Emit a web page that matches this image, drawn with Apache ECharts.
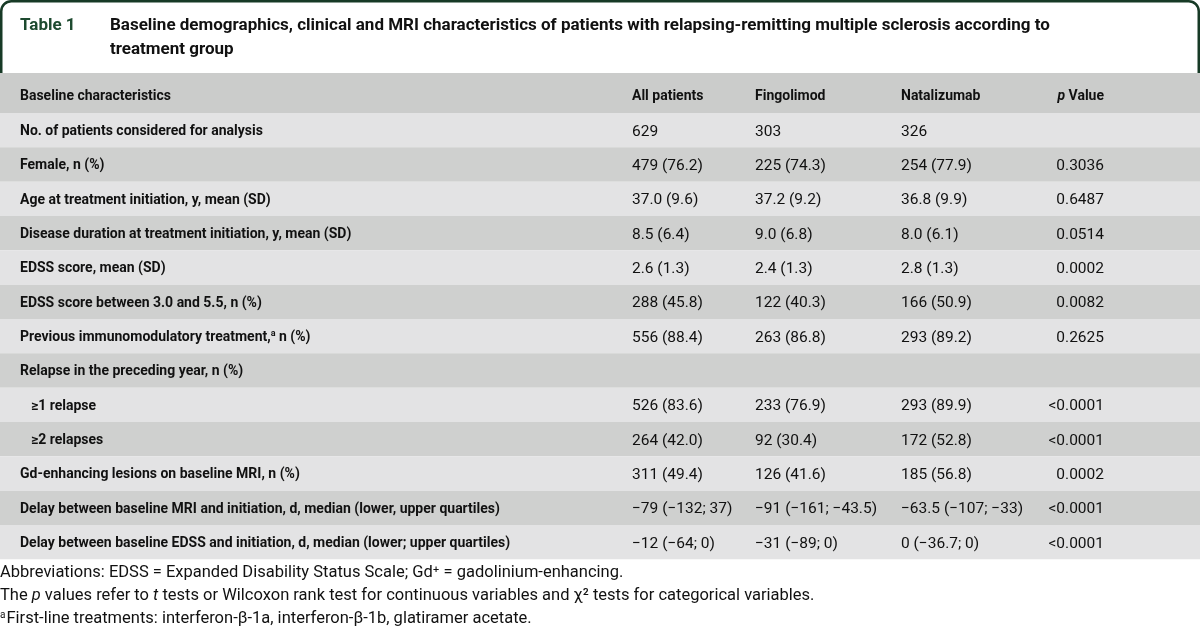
<!DOCTYPE html>
<html><head><meta charset="utf-8">
<script src="https://cdn.jsdelivr.net/npm/echarts@6/dist/echarts.min.js"></script>
<style>html,body{margin:0;padding:0;background:#fff}#c{width:1200px;height:641px}</style>
</head><body><div id="c"></div>
<script>
// ---------- DATA ----------
const tableLabel = 'Table 1';
const titleLines = [
  'Baseline demographics, clinical and MRI characteristics of patients with relapsing-remitting multiple sclerosis according to',
  'treatment group'
];
const columnHeaders = ['Baseline characteristics', 'All patients', 'Fingolimod', 'Natalizumab', '{i|p} Value'];
const rowLabels = [
  'No. of patients considered for analysis',
  'Female, n (%)',
  'Age at treatment initiation, y, mean (SD)',
  'Disease duration at treatment initiation, y, mean (SD)',
  'EDSS score, mean (SD)',
  'EDSS score between 3.0 and 5.5, n (%)',
  'Previous immunomodulatory treatment,{sup|a} n (%)',
  'Relapse in the preceding year, n (%)',
  '\u22651 relapse',
  '\u22652 relapses',
  'Gd-enhancing lesions on baseline MRI, n (%)',
  'Delay between baseline MRI and initiation, d, median (lower, upper quartiles)',
  'Delay between baseline EDSS and initiation, d, median (lower; upper quartiles)'
];
const allPatients = ['629', '479 (76.2)', '37.0 (9.6)', '8.5 (6.4)', '2.6 (1.3)', '288 (45.8)', '556 (88.4)', '',
  '526 (83.6)', '264 (42.0)', '311 (49.4)', '\u221279 (\u2212132; 37)', '\u221212 (\u221264; 0)'];
const fingolimod = ['303', '225 (74.3)', '37.2 (9.2)', '9.0 (6.8)', '2.4 (1.3)', '122 (40.3)', '263 (86.8)', '',
  '233 (76.9)', '92 (30.4)', '126 (41.6)', '\u221291 (\u2212161; \u221243.5)', '\u221231 (\u221289; 0)'];
const natalizumab = ['326', '254 (77.9)', '36.8 (9.9)', '8.0 (6.1)', '2.8 (1.3)', '166 (50.9)', '293 (89.2)', '',
  '293 (89.9)', '172 (52.8)', '185 (56.8)', '\u221263.5 (\u2212107; \u221233)', '0 (\u221236.7; 0)'];
const pValues = ['', '0.3036', '0.6487', '0.0514', '0.0002', '0.0082', '0.2625', '',
  '<0.0001', '<0.0001', '0.0002', '<0.0001', '<0.0001'];
const footnotes = [
  'Abbreviations: EDSS = Expanded Disability Status Scale; Gd\u207a = gadolinium-enhancing.',
  'The {i|p} values refer to {i|t} tests or Wilcoxon rank test for continuous variables and \u03c7\u00b2 tests for categorical variables.',
  '{sup|a}First-line treatments: interferon-\u03b2-1a, interferon-\u03b2-1b, glatiramer acetate.'
];

// ---------- LAYOUT / STYLE ----------
const W = 1200;
const colX = [20, 632, 755, 901, 1104];
const indentX = 31;
const indentedRows = [8, 9];
const FONT = 'Roboto';
const FS_LABEL = 14, FS_VALUE = 15.5;
const colLight = '#e3e3e4', colDark = '#cfd0cf', colHead = '#cbcccb';
const green = '#173a26';

const rowIdx = rowLabels.map((_, i) => i);
const bodyCols = [rowLabels, allPatients, fingolimod, natalizumab, pValues];

function cellText(x, y, text, fs, bold, align) {
  const fw = bold ? 'bold' : 'normal';
  return {
    type: 'text',
    style: {
      x: x, y: y, text: text, fill: '#111',
      fontFamily: FONT, fontSize: fs, fontWeight: fw,
      align: align || 'left', verticalAlign: 'middle',
      rich: {
        i: { fontStyle: 'italic', fontFamily: FONT, fontSize: fs, fontWeight: fw, fill: '#111' },
        sup: { fontFamily: FONT, fontSize: 9, fontWeight: fw, fill: '#111', padding: [0, 0, 7, 0] }
      }
    }
  };
}

function renderBody(params, api) {
  const r = api.value(1);
  const c0 = api.coord([0, r]);
  const c1 = api.coord([W, r]);
  const h = api.size([0, 1])[1];
  const y = c0[1];
  const children = [{ type: 'rect', shape: { x: c0[0], y: y - h / 2, width: c1[0] - c0[0], height: h },
    style: { fill: r % 2 === 0 ? colLight : colDark } }];
  const lx = indentedRows.indexOf(r) >= 0 ? indentX : colX[0];
  children.push(cellText(api.coord([lx, r])[0], y + 1.5, rowLabels[r], FS_LABEL, true, 'left'));
  for (let c = 1; c < 5; c++) {
    const t = bodyCols[c][r];
    if (!t) continue;
    children.push(cellText(api.coord([colX[c], r])[0], y + 1.5, t, FS_VALUE, false, c === 4 ? 'right' : 'left'));
  }
  return { type: 'group', children: children };
}

function renderHead(params, api) {
  const c0 = api.coord([0, 0]);
  const c1 = api.coord([W, 0]);
  const h = api.size([0, 1])[1];
  const y = c0[1];
  const children = [{ type: 'rect', shape: { x: c0[0], y: y - h / 2, width: c1[0] - c0[0], height: h },
    style: { fill: colHead } }];
  columnHeaders.forEach((t, c) => {
    children.push(cellText(api.coord([colX[c], 0])[0], y + 3, t, FS_LABEL, true, c === 4 ? 'right' : 'left'));
  });
  return { type: 'group', children: children };
}

const chart = echarts.init(document.getElementById('c'), null, { renderer: 'canvas' });
chart.setOption({
  animation: false,
  backgroundColor: '#fff',
  title: [
    { text: tableLabel, left: 20, top: 14, padding: 0,
      textStyle: { fontFamily: FONT, fontSize: 17, fontWeight: 'bold', color: '#1d4a2f', lineHeight: 24 } },
    { text: titleLines.join('\n'), left: 110, top: 14, padding: 0,
      textStyle: { fontFamily: FONT, fontSize: 17, fontWeight: 'bold', color: '#111', lineHeight: 24 } },
    { text: footnotes.join('\n'), left: 0, top: 561.5, padding: 0,
      textStyle: { fontFamily: FONT, fontSize: 16.5, fontWeight: 'normal', color: '#111', lineHeight: 23,
        rich: {
          i: { fontFamily: FONT, fontSize: 16.5, fontStyle: 'italic', color: '#111', lineHeight: 23 },
          sup: { fontFamily: FONT, fontSize: 10, color: '#111', lineHeight: 23, padding: [0, 1, 8, 0] }
        } } }
  ],
  graphic: [
    { type: 'rect', z: 0, shape: { x: 1.25, y: 1.25, width: W - 2.5, height: 100, r: [10, 10, 0, 0] },
      style: { fill: '#fff', stroke: green, lineWidth: 2.5 } }
  ],
  grid: [
    { left: 0, right: 0, top: 73, height: 40 },
    { left: 0, right: 0, top: 113, height: 446.3 }
  ],
  xAxis: [
    { gridIndex: 0, type: 'value', min: 0, max: W, show: false },
    { gridIndex: 1, type: 'value', min: 0, max: W, show: false }
  ],
  yAxis: [
    { gridIndex: 0, type: 'category', data: ['head'], inverse: true, show: false },
    { gridIndex: 1, type: 'category', data: rowIdx.map(String), inverse: true, show: false }
  ],
  series: [
    { type: 'custom', xAxisIndex: 0, yAxisIndex: 0, z: 5, data: [[0, 0]],
      encode: { x: 0, y: 1 }, renderItem: renderHead, silent: true },
    { type: 'custom', xAxisIndex: 1, yAxisIndex: 1, z: 5, data: rowIdx.map(i => [0, i]),
      encode: { x: 0, y: 1 }, renderItem: renderBody, silent: true }
  ]
});
</script></body></html>
